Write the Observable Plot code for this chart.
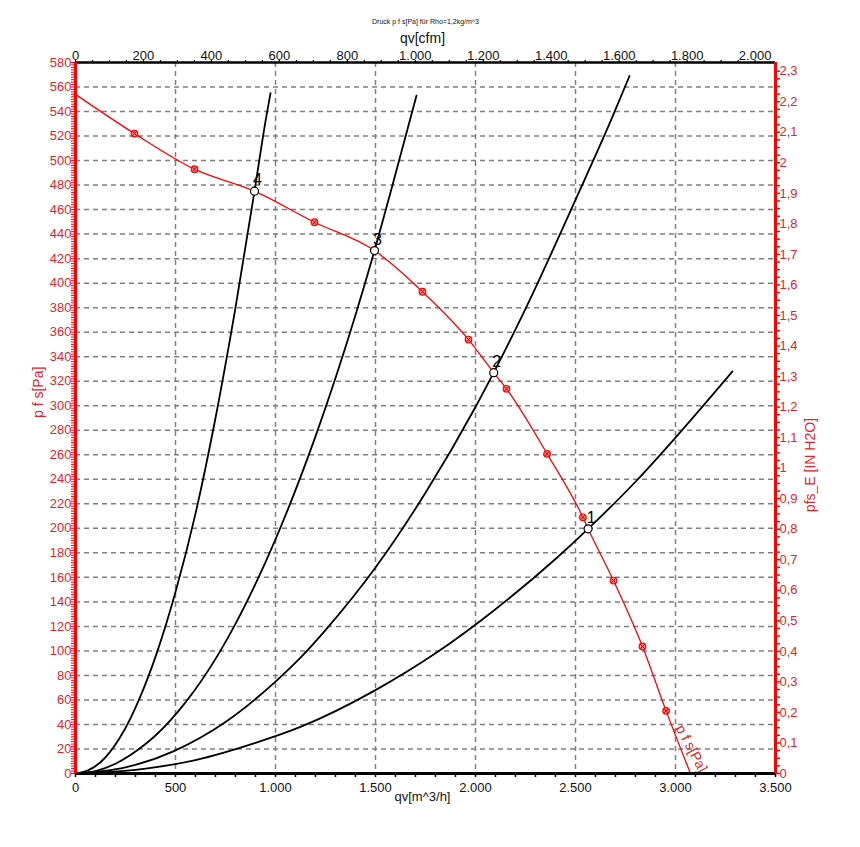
<!DOCTYPE html>
<html><head><meta charset="utf-8">
<script src="https://cdn.jsdelivr.net/npm/d3@7"></script>
<script src="https://cdn.jsdelivr.net/npm/@observablehq/plot@0.6"></script>
<style>body{margin:0;background:#fff;} #chart svg{display:block}</style>
</head><body><div id="chart"></div>
<script>
// ---- data ----
const titleText = "Druck p f s[Pa] für Rho=1,2kg/m^3";
// fan curve p f s [Pa] vs qv [m^3/h]
const fanQ = [0, 295, 595, 895, 1195, 1495, 1735, 1965, 2091, 2155, 2358, 2537, 2563, 2690, 2835, 2953, 3075];
const fanP = [554, 522, 493, 475, 449.7, 426.6, 393, 354, 327, 313.8, 260.8, 209, 199.6, 157.4, 103.6, 51.1, 0];
// measured markers on the fan curve
const markQ = [295, 595, 1195, 1735, 1965, 2155, 2358, 2537, 2690, 2835, 2953];
const markP = [522, 493, 449.7, 393, 354, 313.8, 260.8, 209, 157.4, 103.6, 51.1];
// operating points
const opLabels = ["1", "2", "3", "4"];
const opQ = [2563, 2091, 1495, 895];
const opP = [199.6, 327, 426.6, 475];
// system curves
const sys1Q = [0, 300, 600, 900, 1125, 1500, 1800, 2100, 2400, 2563, 2800, 3000, 3285];
const sys1P = [0, 3, 11, 25, 38, 68, 98, 134, 175, 199.6, 238, 274, 328];
const sys2Q = [0, 250, 495, 750, 1000, 1125, 1250, 1500, 1750, 2000, 2091, 2250, 2500, 2683, 2770];
const sys2P = [0, 5, 18.5, 42, 75, 94.5, 117, 168, 229, 299, 327, 379, 468, 535, 569];
const sys3Q = [0, 100, 200, 342, 400, 550, 717, 800, 1000, 1200, 1400, 1495, 1600, 1705];
const sys3P = [0, 2, 8, 23, 31, 58, 98, 122, 191, 275, 374, 426.6, 489, 553];
const sys4Q = [0, 60, 125, 217, 275, 317, 408, 500, 600, 700, 800, 895, 951, 975];
const sys4P = [0, 2.4, 9.2, 28, 45, 60, 99, 148, 212, 290, 380, 475, 533, 555];
// axis ticks
const qTicks = [0, 500, 1000, 1500, 2000, 2500, 3000, 3500];
const cfmTicks = [0, 200, 400, 600, 800, 1000, 1200, 1400, 1600, 1800, 2000];
const paTicks = d3.range(0, 581, 20);
const inTicks = d3.range(0, 24).map(i => i / 10);
const CFM = 1.69901;   // m^3/h per cfm
const INH2O = 249.089; // Pa per inch H2O

// ---- build tables ----
const fan = fanQ.map((q, i) => ({Q: q, P: fanP[i]}));
const marks = markQ.map((q, i) => ({Q: q, P: markP[i]}));
const ops = opQ.map((q, i) => ({Q: q, P: opP[i], label: opLabels[i]}));
const sys = [];
[[sys1Q, sys1P], [sys2Q, sys2P], [sys3Q, sys3P], [sys4Q, sys4P]].forEach(([qs, ps], k) =>
  qs.forEach((q, i) => sys.push({curve: k + 1, Q: q, P: ps[i]})));

const de = d3.formatLocale({decimal: ",", thousands: ".", grouping: [3], currency: ["", ""]});
const fmtInt = de.format(",");
const fmtIn = de.format(",.1~f");

const RED = "#ff0000", TXTRED = "#e3242b", GRID = "#808080";
const gridStyle = {stroke: GRID, strokeWidth: 1.5, strokeDasharray: "5,4"};

const chart = Plot.plot({
  width: 860, height: 847,
  marginLeft: 75, marginRight: 85, marginTop: 62, marginBottom: 74,
  x: {domain: [0, 3500], label: null},
  y: {domain: [0, 580], label: null},
  style: {fontFamily: "'Liberation Sans', Arial, sans-serif", fontSize: "13px", background: "white", overflow: "visible"},
  marks: [
    Plot.ruleY(paTicks.filter(v => v > 0 && v < 580), gridStyle),
    Plot.ruleX(qTicks.filter(v => v > 0 && v < 3500), gridStyle),
    Plot.line(sys, {x: "Q", y: "P", z: "curve", stroke: "black", strokeWidth: 1.8, curve: "monotone-x"}),
    Plot.line(fan, {x: "Q", y: "P", stroke: RED, strokeWidth: 1.3, curve: "monotone-x"}),
    Plot.dot(marks, {x: "Q", y: "P", r: 3.3, stroke: RED, fill: "#ff8080", strokeWidth: 1.2}),
    Plot.dot(marks, {x: "Q", y: "P", r: 2, symbol: "times", stroke: "#c00000", strokeWidth: 1}),
    Plot.dot(ops, {x: "Q", y: "P", r: 4, fill: "white", stroke: "black", strokeWidth: 1.2}),
    Plot.text(ops, {x: "Q", y: "P", text: "label", dx: 3, dy: -11, fontSize: 16, fill: "black"}),
    Plot.text(fan.slice(-1), {x: "Q", y: "P", text: () => "p f s[Pa]", rotate: 62, dx: 1, dy: -25, fontSize: 14, fill: TXTRED}),
    // frame lines
    Plot.ruleY([0], {stroke: "black", strokeWidth: 3}),
    Plot.ruleY([580], {stroke: "black", strokeWidth: 2.5}),
    Plot.ruleX([0], {stroke: RED, strokeWidth: 3}),
    Plot.ruleX([3500], {stroke: RED, strokeWidth: 3}),
    // bottom axis
    Plot.axisX(d3.range(0, 3501, 100), {anchor: "bottom", tickSize: 4, strokeWidth: 1.5, stroke: "black", tickFormat: () => "", label: null}),
    Plot.axisX(qTicks, {anchor: "bottom", tickSize: 0, tickPadding: 9, tickFormat: fmtInt, fill: "#111", fontSize: 13, label: null}),
    // top axis (cfm)
    Plot.axisX(d3.range(0, 2001, 50).map(c => c * CFM), {anchor: "top", tickSize: 3, strokeWidth: 1.2, stroke: "black", tickFormat: () => "", label: null}),
    Plot.axisX(cfmTicks.map(c => c * CFM), {anchor: "top", tickSize: 0, tickPadding: 3, tickFormat: d => fmtInt(Math.round(d / CFM)), fill: "#111", fontSize: 13, label: null}),
    // left axis (Pa)
    Plot.axisY(d3.range(0, 581, 2), {anchor: "left", tickSize: 4, strokeWidth: 1, stroke: RED, tickFormat: () => "", label: null}),
    Plot.axisY(paTicks, {anchor: "left", tickSize: 0, tickPadding: 4, tickFormat: fmtInt, fill: TXTRED, fontSize: 13, label: null}),
    // right axis (in H2O)
    Plot.axisY(d3.range(0, 93).map(i => i * 0.025 * INH2O), {anchor: "right", tickSize: 4, strokeWidth: 1.5, stroke: RED, tickFormat: () => "", label: null}),
    Plot.axisY(inTicks.map(v => v * INH2O), {anchor: "right", tickSize: 0, tickPadding: 4, tickFormat: d => fmtIn(d / INH2O), fill: TXTRED, fontSize: 13, label: null}),
    // axis titles
    Plot.text([titleText], {frameAnchor: "top", dy: -43, dx: 0, fontSize: 7, fill: "#111"}),
    Plot.text(["qv[cfm]"], {frameAnchor: "top", dy: -29, dx: -3, fontSize: 14, fill: "#111"}),
    Plot.text(["qv[m^3/h]"], {frameAnchor: "bottom", dy: 27, dx: -3, fontSize: 13, fill: "#111"}),
    Plot.text(["p f s[Pa]"], {frameAnchor: "left", dx: -37, rotate: -90, fontSize: 14, fill: TXTRED}),
    Plot.text(["pfs_E [IN H2O]"], {frameAnchor: "right", dx: 35, rotate: -90, fontSize: 14, fill: TXTRED})
  ]
});
document.getElementById("chart").appendChild(chart);
</script></body></html>
